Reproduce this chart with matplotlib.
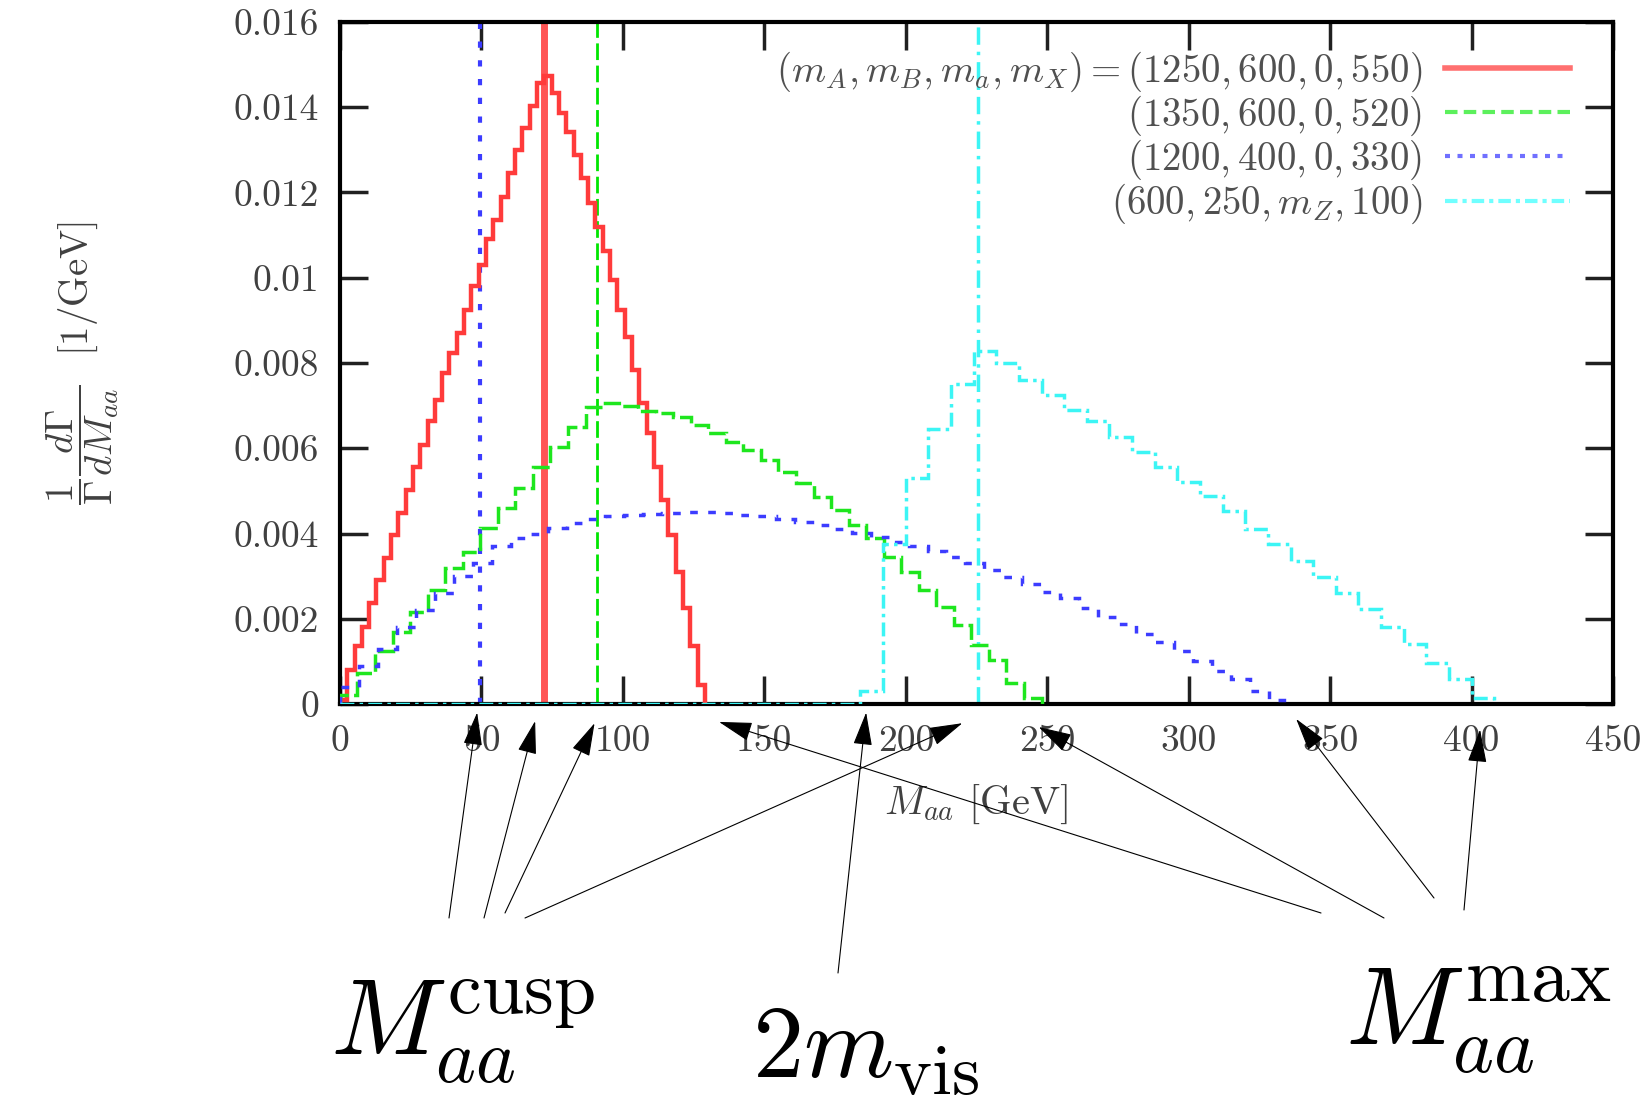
import matplotlib.pyplot as plt
import numpy as np
from matplotlib.lines import Line2D

plt.rcParams['mathtext.fontset'] = 'cm'
plt.rcParams['font.family'] = ['cmr10', 'DejaVu Serif']
plt.rcParams['axes.formatter.use_mathtext'] = True

# --- histogram data (normalised 1/Gamma dGamma/dM_aa) ---
red_width = 2.58
red_vals = [0.0001, 0.0008, 0.00135, 0.00181, 0.00236, 0.00291, 0.00342, 0.00397,
            0.00448, 0.00502, 0.00557, 0.00608, 0.00663, 0.00714, 0.00776, 0.00823,
            0.0087, 0.00925, 0.0098, 0.0103, 0.0109, 0.01136, 0.0119, 0.01246,
            0.0130, 0.01351, 0.01402, 0.01457, 0.01473, 0.01433, 0.01387, 0.01343,
            0.01289, 0.01234, 0.01175, 0.0112, 0.01062, 0.00995, 0.00925, 0.00862,
            0.00784, 0.00706, 0.00635, 0.00557, 0.00479, 0.00397, 0.0031, 0.00225,
            0.00135, 0.00045]

green_width = 6.2
green_vals = [0.0002, 0.00072, 0.00124, 0.00169, 0.00216, 0.00268, 0.00319, 0.00357,
              0.00413, 0.0046, 0.00507, 0.00556, 0.00603, 0.0065, 0.00697, 0.00706,
              0.0070, 0.00688, 0.00682, 0.00674, 0.00655, 0.00636, 0.00615, 0.00596,
              0.00573, 0.00545, 0.00518, 0.00486, 0.00455, 0.0042, 0.0039, 0.00345,
              0.0031, 0.00268, 0.00228, 0.00186, 0.00139, 0.00103, 0.00049, 0.00015]

blue_width = 6.7
blue_vals = [0.0004, 0.0009, 0.0013, 0.0018, 0.0022, 0.0026, 0.0030, 0.0033,
             0.0037, 0.0039, 0.0040, 0.00412, 0.00424, 0.00434, 0.0044, 0.00444,
             0.00446, 0.00448, 0.0045, 0.0045, 0.00448, 0.00444, 0.0044, 0.00434,
             0.00427, 0.0042, 0.0041, 0.00402, 0.00392, 0.0038, 0.0037, 0.00358,
             0.00345, 0.0033, 0.00315, 0.00298, 0.00282, 0.00262, 0.00248, 0.00225,
             0.00205, 0.00188, 0.00165, 0.00145, 0.00125, 0.00101, 0.00078, 0.00058,
             0.0003, 0.0001]

cyan_width = 8.0
cyan_vals = [0.0] * 23 + [0.0003, 0.00375, 0.0053, 0.00645, 0.0075, 0.00827, 0.0080,
                          0.0076, 0.00725, 0.0069, 0.00663, 0.00627, 0.00592, 0.00556,
                          0.0052, 0.00487, 0.00453, 0.0041, 0.00376, 0.00336, 0.00298,
                          0.0026, 0.00223, 0.0018, 0.0014, 0.00097, 0.00058, 0.00015]

# cusp positions (vertical lines)
cusp_red = 72.0
cusp_green = 91.0
cusp_blue = 49.5
cusp_cyan = 225.5

labels = [r'$(m_A, m_B, m_a, m_X) = (1250, 600, 0, 550)$',
          r'$(1350, 600, 0, 520)$',
          r'$(1200, 400, 0, 330)$',
          r'$(600, 250, m_Z, 100)$']

xticks = [0, 50, 100, 150, 200, 250, 300, 350, 400, 450]
yticks = [0, 0.002, 0.004, 0.006, 0.008, 0.01, 0.012, 0.014, 0.016]
ytick_labels = ['0', '0.002', '0.004', '0.006', '0.008', '0.01', '0.012', '0.014', '0.016']

# arrow targets (x in GeV, tip just under the axis)
cusp_arrow_x = [48.5, 69, 90, 220]
cusp_arrow_y = [-0.0002, -0.0004, -0.00045, -0.00045]
vis_arrow_x = [186]
vis_arrow_y = [-0.0002]
max_arrow_x = [134, 247, 338, 403]
max_arrow_y = [-0.00042, -0.00054, -0.00035, -0.0006]

# --- figure ---
fig = plt.figure(figsize=(16.51, 10.99), dpi=100)
ax = fig.add_axes([0.2059, 0.3594, 0.7711, 0.6206])

def edges(vals, w):
    return np.arange(len(vals) + 1) * w

red_c = '#ff3b3b'
green_c = '#1ee61e'
blue_c = '#3c3cff'
cyan_c = '#3cf5f5'

ax.axvline(cusp_red, color='#ff5555', lw=5, zorder=2)
ax.axvline(cusp_green, color='#00e600', lw=2, ls=(0, (6, 2)), zorder=2)
ax.axvline(cusp_blue, color=blue_c, lw=3, ls=(0, (1.5, 3)), zorder=2)
ax.axvline(cusp_cyan, color=cyan_c, lw=2.5, ls=(0, (5, 2, 1, 2)), zorder=2)

ax.stairs(red_vals, edges(red_vals, red_width), baseline=0,
          color=red_c, lw=3.2, zorder=3)
ax.stairs(green_vals, edges(green_vals, green_width), baseline=0,
          color=green_c, lw=2.5, ls=(0, (5, 1.5)), zorder=3)
ax.stairs(blue_vals, edges(blue_vals, blue_width), baseline=0,
          color=blue_c, lw=2.5, ls=(0, (2.2, 3)), zorder=3)
ax.stairs(cyan_vals, edges(cyan_vals, cyan_width), baseline=0,
          color=cyan_c, lw=2.5, ls=(0, (4, 1.5, 1, 1.5)), zorder=3)

ax.set_xlim(0, 450)
ax.set_ylim(0, 0.016)
ax.set_xticks(xticks)
ax.set_xticklabels([str(t) for t in xticks])
ax.set_yticks(yticks)
ax.set_yticklabels(ytick_labels)
ax.tick_params(direction='in', length=20, width=2.5, top=True, right=True,
               labelsize=27, colors='#202020', labelcolor='#404040')
ax.tick_params(axis='x', pad=15)
ax.tick_params(axis='y', pad=15)
for s in ax.spines.values():
    s.set_linewidth(3)

ax.set_xlabel(r'$M_{aa}$ [GeV]', fontsize=29, color='#404040')
ax.xaxis.set_label_coords(0.5, -0.115)
ax.set_ylabel(r'$\dfrac{1}{\Gamma}\dfrac{d\Gamma}{dM_{aa}}$  [1/GeV]', fontsize=28,
              color='#404040')
ax.yaxis.set_label_coords(-0.172, 0.5)

leg_handles = [Line2D([], [], color='#ff7070', lw=4),
               Line2D([], [], color='#5cf05c', lw=3, ls=(0, (3, 1.5))),
               Line2D([], [], color='#7070ff', lw=3, ls=(0, (1.2, 1.8))),
               Line2D([], [], color='#70ffff', lw=3, ls=(0, (3, 1.2, 1, 1.2)))]
leg = ax.legend(leg_handles, labels, loc='upper right', bbox_to_anchor=(0.966, 0.96),
                frameon=False, markerfirst=False, fontsize=28, handlelength=3.2,
                handletextpad=0.6, labelspacing=0.0, borderaxespad=0, borderpad=0)
for t in leg.get_texts():
    t.set_color('#505050')

# --- annotation arrows and big labels ---
arrow_kw = dict(arrowstyle='-|>,head_length=0.7,head_width=0.2', mutation_scale=30,
                lw=0.8, color='black', shrinkA=0, shrinkB=0)
cusp_tails = [(449, 181), (484, 181), (505, 186), (525, 181)]
vis_tails = [(838, 126)]
max_tails = [(1321, 186), (1384, 181), (1434, 201), (1464, 189)]
for xs, ys, tails in [(cusp_arrow_x, cusp_arrow_y, cusp_tails),
                      (vis_arrow_x, vis_arrow_y, vis_tails),
                      (max_arrow_x, max_arrow_y, max_tails)]:
    for x, y, tail in zip(xs, ys, tails):
        ax.annotate('', xy=(x, y), xycoords='data', xytext=tail,
                    textcoords='figure pixels', arrowprops=arrow_kw,
                    annotation_clip=False)

fig.text(330 / 1651, 44 / 1099, r'$M_{aa}^{\mathrm{cusp}}$', fontsize=78,
         ha='left', va='baseline')
fig.text(752 / 1651, 21 / 1099, r'$2m_{\mathrm{vis}}$', fontsize=74,
         ha='left', va='baseline')
fig.text(1345 / 1651, 54 / 1099, r'$M_{aa}^{\mathrm{max}}$', fontsize=80,
         ha='left', va='baseline')

fig.savefig('out.png', dpi=100, facecolor='white')
